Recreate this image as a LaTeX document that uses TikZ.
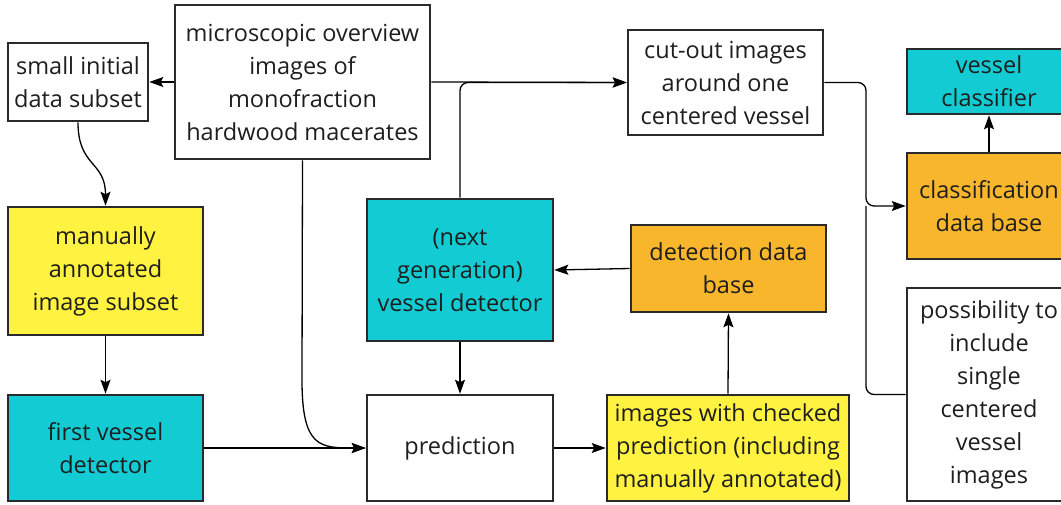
\documentclass[tikz,border=0pt]{standalone}
\usepackage{fontspec}
\setmainfont{Open Sans}
\usetikzlibrary{arrows.meta}
\definecolor{cyanbox}{HTML}{13CCD3}
\definecolor{yellowbox}{HTML}{FFF240}
\definecolor{orangebox}{HTML}{F8B62C}
\definecolor{edge}{HTML}{2A2A2A}
\definecolor{txt}{HTML}{1E1E1E}
\tikzset{
  box/.style={draw=edge, line width=2.6pt, align=center, inner sep=0pt,
    text=txt, font=\fontsize{23.5}{33}\selectfont},
  arr/.style={draw=black, line width=1.3pt, -{Stealth[length=14pt,width=10pt,inset=2.5pt]}},
  conn/.style={draw=black, line width=1.3pt}
}
\begin{document}
\begin{tikzpicture}[x=1pt,y=-1pt]
\useasboundingbox (0,0) rectangle (1061,504);
\clip (0,0) rectangle (1061,504);
\node[box, fill=white, minimum width=140pt, minimum height=78pt] (small) at (78,82) {small initial\\data subset};
\node[box, fill=white, minimum width=255pt, minimum height=154pt] (micro) at (302.5,82) {microscopic overview\\images of\\monofraction\\hardwood macerates};
\node[box, fill=white, minimum width=195pt, minimum height=105pt] (cut) at (725.5,82.5) {cut-out images\\around one\\centered vessel};
\node[box, fill=cyanbox, minimum width=164pt, minimum height=65pt] (vclass) at (989,81.5) {vessel\\classifier};
\node[box, fill=orangebox, minimum width=164pt, minimum height=106pt] (classdb) at (989,206) {classification\\data base};
\node[box, fill=white, minimum width=164pt, minimum height=213pt] (poss) at (989,394.5) {possibility to\\include\\single\\centered\\vessel\\images};
\node[box, fill=yellowbox, minimum width=195pt, minimum height=128pt] (manual) at (105.5,271) {manually\\annotated\\image subset};
\node[box, fill=cyanbox, minimum width=195pt, minimum height=106pt] (first) at (105.5,448) {first vessel\\detector};
\node[box, fill=cyanbox, minimum width=186pt, minimum height=142pt] (nextgen) at (460,270) {(next\\generation)\\vessel detector};
\node[box, fill=white, minimum width=186pt, minimum height=106pt] (pred) at (460,448) {prediction};
\node[box, fill=orangebox, minimum width=195pt, minimum height=87pt] (detdb) at (728.5,268.5) {detection data\\base};
\node[box, fill=yellowbox, minimum width=242pt, minimum height=106pt] (images) at (728,448) {images with checked\\prediction (including\\manually annotated)};

\coordinate (j) at (866,206);
\coordinate (m1) at (302,380);

\draw[arr] (micro.west) -- (small.east);
\draw[arr] (micro.east) -- (cut.west);
\draw[arr, rounded corners=8pt] (nextgen.north) |- (cut.west);
\draw[arr, rounded corners=8pt] (cut.east) -| (j) -- (classdb.west);
\draw[conn, rounded corners=8pt] (poss.west) -| (j);
\draw[arr] (classdb.north) -- (vclass.south);
\draw[arr] (small.south) .. controls +(0,45) and +(0,-45) .. (manual.north);
\draw[arr] (manual.south) -- (first.north);
\draw[arr] (micro.south) -- (m1) .. controls (302,448) and (320,448) .. (pred.west);
\draw[arr] (first.east) -- (pred.west);
\draw[arr] (nextgen.south) -- (pred.north);
\draw[arr] (pred.east) -- (images.west);
\draw[arr] (images.north) -- (detdb.south);
\draw[arr] (detdb.west) -- (nextgen.east);
\end{tikzpicture}
\end{document}
